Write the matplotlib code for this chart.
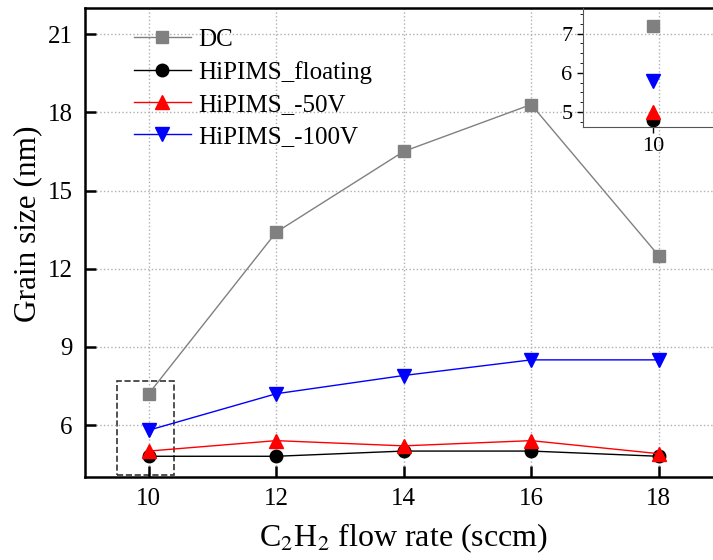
import numpy as np
import matplotlib
matplotlib.use('Agg')
import matplotlib.pyplot as plt
from matplotlib.patches import Rectangle

flow = [10, 12, 14, 16, 18]
dc = [7.2, 13.4, 16.5, 18.3, 12.5]
floating = [4.8, 4.8, 5.0, 5.0, 4.8]
bias50 = [5.0, 5.4, 5.2, 5.4, 4.9]
bias100 = [5.8, 7.2, 7.9, 8.5, 8.5]
labels = ['DC', 'HiPIMS_floating', 'HiPIMS_-50V', 'HiPIMS_-100V']

plt.rc('font', family='Liberation Serif', size=16)
plt.rc('mathtext', fontset='stix')

fig = plt.figure(figsize=(7.13, 5.6), dpi=100)
ax = fig.add_axes([0.1192, 0.148, 0.894, 0.8375])

series = [dc, floating, bias50, bias100]
colors = ['#808080', 'black', 'red', 'blue']
markers = ['s', 'o', '^', 'v']
sizes = [8, 9, 10, 10]
for y, c, m, s, lab in zip(series, colors, markers, sizes, labels):
    ax.plot(flow, y, color=c, marker=m, markersize=s, lw=1, label=lab)

ax.set_xlim(9, 19)
ax.set_ylim(4, 22)
ax.set_xticks(flow)
ax.set_yticks([6, 9, 12, 15, 18, 21])
ax.grid(True, linestyle=':', color='#b0b0b0', lw=1)
ax.tick_params(direction='in', length=8, width=1.8, labelsize=18)
ax.tick_params(axis='y', pad=9)
ax.tick_params(axis='x', pad=8)
for sp in ['left', 'bottom', 'top']:
    ax.spines[sp].set_linewidth(1.8)
ax.spines['right'].set_visible(False)
ax.set_xlabel('C$_2$H$_2$ flow rate (sccm)', fontsize=23, labelpad=8)
ax.set_ylabel('Grain size (nm)', fontsize=22.5)
ax.yaxis.set_label_coords(-0.067, 0.54)

ax.add_patch(Rectangle((9.5, 4.1), 0.9, 3.6, fill=False, ls='--', lw=1.2,
                       edgecolor='#333333'))

ax.legend(loc='upper left', bbox_to_anchor=(0.041, 1.004), frameon=False,
          fontsize=18, handlelength=2.3, handletextpad=0.3, labelspacing=0.38)

# inset
ins = fig.add_axes([583 / 713, 1 - 127 / 560, 140 / 713, 119 / 560])
ins.patch.set_alpha(0)
for y, c, m, s in zip(series, colors, markers, sizes):
    ins.plot(flow[:1], y[:1], color=c, marker=m, markersize=s, lw=0)
ins.set_xlim(9.5, 10.5)
ins.set_ylim(4.62, 7.65)
ins.set_xticks([10])
ins.set_yticks([5, 6, 7])
ins.set_yticks([4.75, 5.25, 5.5, 5.75, 6.25, 6.5, 6.75, 7.25, 7.5], minor=True)
ins.tick_params(labelsize=16, length=4, width=1)
ins.tick_params(which='minor', length=2)
ins.spines['top'].set_visible(False)
ins.spines['right'].set_visible(False)
for sp in ['left', 'bottom']:
    ins.spines[sp].set_color('#555555')

fig.savefig('out.png', dpi=100)
